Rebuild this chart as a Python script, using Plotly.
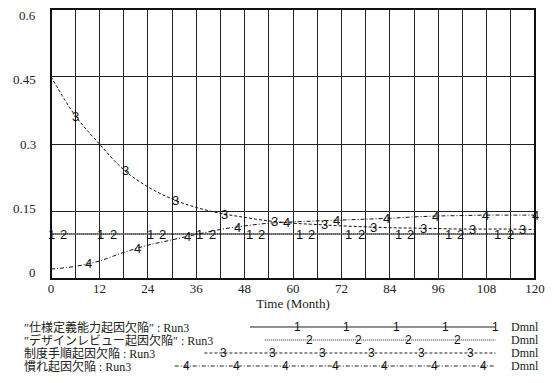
import numpy as np
import plotly.graph_objects as go

# ---------------- data ----------------
time_months = [0, 6, 12, 18, 24, 30, 36, 42, 48, 54, 60, 66, 72, 78, 84, 90, 96, 102, 108, 114, 120]
spec_defects = [0.100, 0.100, 0.100, 0.100, 0.100, 0.100, 0.100, 0.100, 0.100, 0.100, 0.100,
                0.100, 0.100, 0.100, 0.100, 0.100, 0.100, 0.100, 0.100, 0.100, 0.100]
review_defects = [0.100, 0.100, 0.100, 0.100, 0.100, 0.100, 0.100, 0.100, 0.100, 0.100, 0.100,
                  0.100, 0.100, 0.100, 0.100, 0.100, 0.100, 0.100, 0.100, 0.100, 0.100]
procedure_defects = [0.450, 0.363, 0.300, 0.243, 0.205, 0.178, 0.159, 0.146, 0.137, 0.129, 0.124,
                     0.121, 0.118, 0.116, 0.114, 0.113, 0.112, 0.111, 0.111, 0.111, 0.110]
habit_defects = [0.022, 0.028, 0.040, 0.059, 0.075, 0.087, 0.099, 0.110, 0.118, 0.124, 0.127,
                 0.129, 0.131, 0.133, 0.135, 0.138, 0.140, 0.141, 0.142, 0.142, 0.142]

series_names = ["″仕様定義能力起因欠陥″ : Run3", "″デザインレビュー起因欠陥″ : Run3",
                "制度手順起因欠陥 : Run3", "慣れ起因欠陥 : Run3"]
series_labels = ["1", "2", "3", "4"]
units = ["Dmnl", "Dmnl", "Dmnl", "Dmnl"]
x_ticks = [0, 12, 24, 36, 48, 60, 72, 84, 96, 108, 120]
y_ticks = [0, 0.15, 0.3, 0.45, 0.6]
y_tick_text = ["0", "0.15", "0.3", "0.45", "0.6"]
x_title = "Time (Month)"

# ---------------- style ----------------
W, H = 554, 383
L, R, T, B = 51, 14, 9, 104
PW, PH = W - L - R, H - T - B
SERIF = "Liberation Serif, DejaVu Serif, Noto Sans CJK JP, serif"
SANS = "Liberation Sans, Arial, sans-serif"
dashes = ["solid", "1px,1px", "3px,2px", "4px,2px,1px,2px"]
colors = ["#222222", "#555555", "#111111", "#111111"]
widths = [1.2, 1.6, 1, 1]

all_series = [spec_defects, review_defects, procedure_defects, habit_defects]


def px_x(px):
    return (px - L) / PW


def px_y(py):
    return (H - B - py) / PH


fig = go.Figure()

for i, ys in enumerate(all_series):
    fig.add_trace(go.Scatter(
        x=time_months, y=ys, mode="lines",
        line=dict(color=colors[i], width=widths[i], dash=dashes[i],
                  shape="spline" if i >= 2 else "linear"),
        showlegend=False, hoverinfo="skip"))

# numbered markers along the plotted lines
spacing = 120 / 9.75
annotations = []
for i, ys in enumerate(all_series):
    t = (i / 4) * spacing
    while t <= 120.01:
        v = float(np.interp(t, time_months, ys))
        annotations.append(dict(x=t, y=v, xref="x", yref="y", text=series_labels[i],
                                showarrow=False, font=dict(family=SANS, size=13, color="#111"),
                                xanchor="center", yanchor="middle"))
        t += spacing

# y tick labels (slightly offset, as in the original)
for v, txt in zip(y_ticks, y_tick_text):
    annotations.append(dict(x=px_x(38), y=v, xref="paper", yref="y", text=txt,
                            showarrow=False, xanchor="right", yanchor="middle",
                            yshift=-(v - 0.3) / 0.3 * 6.5,
                            font=dict(family=SERIF, size=13, color="#222")))

# legend block
row_y = [327, 340, 353, 366]
line_start = [252, 267, 206, 176]
line_end = 500
marker_end = [500, 462, 475, 488]
shapes = []
for i in range(4):
    annotations.append(dict(x=px_x(22), y=px_y(row_y[i]), xref="paper", yref="paper",
                            text=series_names[i], showarrow=False, xanchor="left",
                            yanchor="middle", font=dict(family=SERIF, size=12, color="#222")))
    annotations.append(dict(x=px_x(514), y=px_y(row_y[i]), xref="paper", yref="paper",
                            text=units[i], showarrow=False, xanchor="left",
                            yanchor="middle", font=dict(family=SERIF, size=12, color="#222")))
    shapes.append(dict(type="line", xref="paper", yref="paper",
                       x0=px_x(line_start[i]), x1=px_x(line_end),
                       y0=px_y(row_y[i]), y1=px_y(row_y[i]),
                       line=dict(color="#222", width=1.2 if i == 0 else 1, dash=dashes[i])))
    m = marker_end[i]
    while m >= line_start[i] + 5:
        annotations.append(dict(x=px_x(m), y=px_y(row_y[i]), xref="paper", yref="paper",
                                text=series_labels[i], showarrow=False, xanchor="center",
                                yanchor="middle", font=dict(family=SANS, size=12, color="#111")))
        m -= 50

# plot frame
shapes.append(dict(type="rect", xref="paper", yref="paper", x0=0, x1=1, y0=0, y1=1,
                   line=dict(color="#111", width=2), layer="above"))

fig.update_layout(
    width=W, height=H,
    margin=dict(l=L, r=R, t=T, b=B),
    paper_bgcolor="white", plot_bgcolor="white",
    showlegend=False,
    annotations=annotations, shapes=shapes,
    xaxis=dict(range=[0, 120], tickvals=x_ticks, showgrid=True, gridcolor="#222", gridwidth=1,
               minor=dict(dtick=6, tick0=0, showgrid=True, gridcolor="#222", gridwidth=1),
               zeroline=False, showline=False, ticks="",
               tickfont=dict(family=SERIF, size=13, color="#222"),
               title=dict(text=x_title, font=dict(family=SERIF, size=13, color="#222"), standoff=0)),
    yaxis=dict(range=[0, 0.6], tickvals=y_ticks, showgrid=True, gridcolor="#222", gridwidth=1,
               zeroline=False, showline=False, showticklabels=False, ticks=""),
)

fig.write_html("out.html")
